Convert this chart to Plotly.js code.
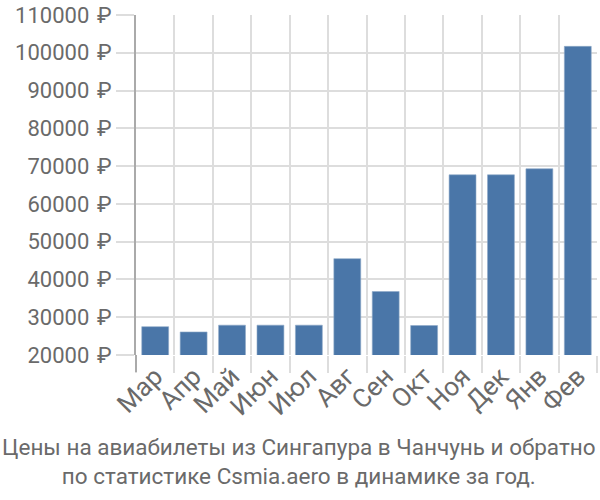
<!DOCTYPE html>
<html>
<head>
<meta charset="utf-8">
<script src="https://cdn.plot.ly/plotly-3.0.1.min.js"></script>
<style>html,body{margin:0;padding:0;background:#fff}</style>
</head>
<body>
<div id="chart" style="width:600px;height:500px"></div>
<script>
const months = ["Мар","Апр","Май","Июн","Июл","Авг","Сен","Окт","Ноя","Дек","Янв","Фев"];
const prices = [27500, 26100, 27900, 27900, 27900, 45500, 36800, 27800, 67700, 67700, 69300, 101700];
const yTicks = [20000,30000,40000,50000,60000,70000,80000,90000,100000,110000];
const titleText = "Цены на авиабилеты из Сингапура в Чанчунь и обратно<br>по статистике Csmia.aero в динамике за год.";

const font = "Roboto, sans-serif";
Plotly.newPlot("chart", [{
  type: "bar",
  x: months,
  y: prices,
  marker: {color: "#4a76a8", line: {color: "#8fa9c8", width: 0.6}},
  hoverinfo: "none"
}], {
  width: 600, height: 500,
  margin: {l: 136, r: 3, t: 15, b: 145},
  paper_bgcolor: "#fff", plot_bgcolor: "#fff",
  bargap: 0.3,
  showlegend: false,
  font: {family: font, color: "#6a6a6a", size: 22},
  xaxis: {
    type: "category",
    tickson: "boundaries",
    showgrid: true, gridcolor: "#dddddd", gridwidth: 2,
    ticks: "outside", ticklen: 17, tickcolor: "#dddddd", tickwidth: 2,
    tickangle: -45,
    tickfont: {family: font, size: 26, color: "#6a6a6a"},
    showline: false, zeroline: false
  },
  yaxis: {
    range: [20000, 110000],
    tickvals: yTicks,
    ticktext: yTicks.map(v => v + " \u200A₽"),
    showgrid: true, gridcolor: "#dddddd", gridwidth: 2,
    ticks: "outside", ticklen: 18, tickcolor: "#dddddd", tickwidth: 2,
    tickfont: {family: font, size: 22, color: "#6a6a6a"},
    showline: true, linecolor: "#aaaaaa", linewidth: 2,
    zeroline: false
  },
  shapes: [{type: "line", xref: "paper", yref: "paper", x0: 0, x1: 0, y0: 0, y1: -0.05,
    line: {color: "#aaaaaa", width: 2}}],
  annotations: [{
    text: titleText, xref: "paper", yref: "paper", x: 0.5, y: 0, xanchor: "center", yanchor: "top",
    xshift: -68, yshift: -77, showarrow: false,
    font: {family: font, size: 22.5, color: "#6a6a6a"}
  }]
}, {displayModeBar: false, staticPlot: true});
</script>
</body>
</html>
